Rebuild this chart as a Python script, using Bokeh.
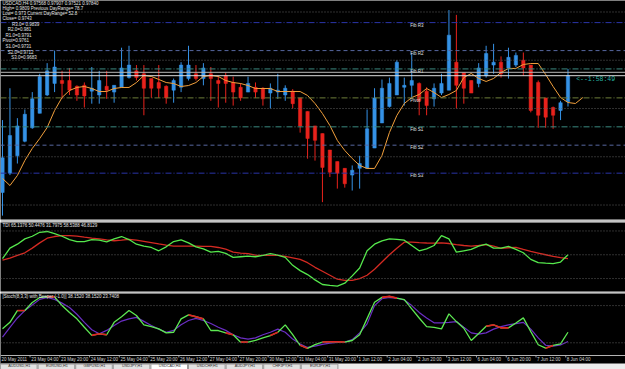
from bokeh.plotting import figure
from bokeh.layouts import column
from bokeh.models import Range1d, Span, Label, ColumnDataSource
from bokeh.core.properties import value
from bokeh.embed import file_html
from bokeh.resources import INLINE

# ---------------- data ----------------
opens = [0.9663, 0.9683, 0.9701, 0.9716, 0.9730, 0.9745, 0.9764, 0.9776, 0.9779, 0.9779,
         0.9773, 0.9774, 0.9768, 0.9764, 0.9773, 0.9767, 0.9772, 0.9782, 0.9789, 0.9786,
         0.9781, 0.9777, 0.9773, 0.9769, 0.9772, 0.9781, 0.9786, 0.9781, 0.9786, 0.9779,
         0.9784, 0.9777, 0.9772, 0.9767, 0.9772, 0.9771, 0.9766, 0.9767, 0.9764, 0.9768,
         0.9761, 0.9747, 0.9732, 0.9724, 0.9707, 0.9695, 0.9688, 0.9681, 0.9688, 0.9688,
         0.9709, 0.9735, 0.9752, 0.9764, 0.9772, 0.9774, 0.9776, 0.9768, 0.9760, 0.9766,
         0.9769, 0.9798, 0.9787, 0.9779, 0.9776, 0.9784, 0.9795, 0.9798, 0.9792, 0.9795,
         0.9800, 0.9795, 0.9777, 0.9761, 0.9751, 0.9748, 0.9757]
highs = [0.9738, 0.9771, 0.9740, 0.9749, 0.9767, 0.9786, 0.9797, 0.9810, 0.9789, 0.9792,
         0.9774, 0.9777, 0.9793, 0.9789, 0.9789, 0.9774, 0.9813, 0.9815, 0.9795, 0.9795,
         0.9781, 0.9795, 0.9774, 0.9781, 0.9798, 0.9815, 0.9795, 0.9797, 0.9793, 0.9784,
         0.9787, 0.9783, 0.9776, 0.9783, 0.9777, 0.9772, 0.9776, 0.9786, 0.9774, 0.9770,
         0.9761, 0.9747, 0.9732, 0.9724, 0.9707, 0.9695, 0.9688, 0.9691, 0.9701, 0.9749,
         0.9771, 0.9780, 0.9782, 0.9800, 0.9782, 0.9808, 0.9777, 0.9772, 0.9776, 0.9786,
         0.9852, 0.9847, 0.9787, 0.9779, 0.9797, 0.9815, 0.9817, 0.9804, 0.9813, 0.9808,
         0.9808, 0.9795, 0.9779, 0.9761, 0.9752, 0.9758, 0.9791]
lows = [0.9639, 0.9681, 0.9693, 0.9715, 0.9729, 0.9745, 0.9763, 0.9767, 0.9760, 0.9764,
        0.9758, 0.9751, 0.9755, 0.9755, 0.9760, 0.9756, 0.9772, 0.9781, 0.9779, 0.9743,
        0.9761, 0.9761, 0.9755, 0.9756, 0.9767, 0.9779, 0.9779, 0.9774, 0.9758, 0.9751,
        0.9756, 0.9753, 0.9758, 0.9767, 0.9761, 0.9753, 0.9750, 0.9760, 0.9758, 0.9750,
        0.9725, 0.9698, 0.9696, 0.9653, 0.9679, 0.9667, 0.9668, 0.9665, 0.9667, 0.9688,
        0.9709, 0.9735, 0.9751, 0.9764, 0.9753, 0.9761, 0.9743, 0.9743, 0.9752, 0.9764,
        0.9769, 0.9750, 0.9755, 0.9766, 0.9772, 0.9782, 0.9786, 0.9782, 0.9781, 0.9793,
        0.9784, 0.9746, 0.9730, 0.9730, 0.9729, 0.9738, 0.9752]
closes = [0.9699, 0.9722, 0.9732, 0.9744, 0.9760, 0.9783, 0.9789, 0.9793, 0.9776, 0.9769,
          0.9764, 0.9763, 0.9771, 0.9779, 0.9769, 0.9774, 0.9792, 0.9795, 0.9782, 0.9771,
          0.9771, 0.9771, 0.9761, 0.9779, 0.9795, 0.9795, 0.9781, 0.9792, 0.9781, 0.9776,
          0.9776, 0.9767, 0.9761, 0.9776, 0.9767, 0.9760, 0.9771, 0.9769, 0.9771, 0.9755,
          0.9732, 0.9719, 0.9717, 0.9689, 0.9684, 0.9683, 0.9672, 0.9686, 0.9693, 0.9729,
          0.9761, 0.9771, 0.9776, 0.9798, 0.9774, 0.9779, 0.9758, 0.9753, 0.9771, 0.9776,
          0.9826, 0.9774, 0.9771, 0.9766, 0.9792, 0.9807, 0.9798, 0.9786, 0.9803, 0.9805,
          0.9792, 0.9748, 0.9743, 0.9741, 0.9743, 0.9756, 0.9784]
ma_line = [0.96775, 0.96702, 0.96806, 0.96961, 0.97086, 0.97189, 0.97303, 0.97479, 0.97614, 0.97687,
           0.97718, 0.97728, 0.97707, 0.97676, 0.97676, 0.97707, 0.97718, 0.97718, 0.97769, 0.97842,
           0.97832, 0.97801, 0.97769, 0.97759, 0.97728, 0.97738, 0.97769, 0.97832, 0.97842, 0.97832,
           0.97790, 0.97769, 0.97759, 0.97738, 0.97707, 0.97707, 0.97707, 0.97676, 0.97676, 0.97676,
           0.97676, 0.97635, 0.97552, 0.97448, 0.97324, 0.97169, 0.97065, 0.96982, 0.96910, 0.96879,
           0.96879, 0.97013, 0.97251, 0.97428, 0.97552, 0.97614, 0.97645, 0.97707, 0.97666, 0.97614,
           0.97645, 0.97687, 0.97821, 0.97863, 0.97811, 0.97780, 0.97811, 0.97873, 0.97915, 0.97915,
           0.97956, 0.97966, 0.97966, 0.97852, 0.97728, 0.97614, 0.97562, 0.97552, 0.97614]

tdi_green = [47, 55, 58, 62, 64, 67, 67.6, 66, 64, 61.5,
             60, 60, 61.5, 61, 59.8, 62, 63.8, 61.5, 58, 56.5,
             55.5, 53, 56, 60, 61.3, 59, 56, 54.5, 52, 52.5,
             51, 48, 48.5, 49, 48.5, 49.5, 50.8, 49.7, 48, 42,
             38, 35, 31, 27.5, 26.8, 26.3, 28.5, 34, 40, 53,
             58, 60.5, 62, 61.7, 61, 57, 53, 54.5, 57, 64.5,
             62, 52, 53, 54, 56.5, 58, 55, 55, 56.3, 54,
             51.5, 46.5, 44, 43.6, 43.3, 44.5, 50]
tdi_red = [46, 47.5, 49.5, 51.5, 55, 59, 62.5, 63.8, 64.4, 64.5,
           64.1, 63.3, 62.6, 62, 61.2, 60.6, 61, 61.6, 61, 60.1,
           59.2, 58.2, 57.3, 56.5, 56.5, 56.5, 56.5, 56.4, 56.3, 55.5,
           54.3, 52, 51.3, 50.8, 49.7, 49.5, 49.5, 49.5, 48.8, 47.7,
           46.5, 44, 40.5, 37.5, 34.5, 31.5, 30.6, 30.6, 32, 34.5,
           39, 44.5, 50, 55, 59.5, 59.6, 59.2, 58.9, 58.8, 59,
           58.5, 57.6, 57, 56.6, 57, 57.6, 56.5, 54.8, 55.3, 55.6,
           54, 52.5, 51.3, 50, 48.7, 47.8, 47]
tdi_levels = [32, 50, 68]

stoch_main = [42.5, 53, 72, 72, 85, 93, 94.4, 94, 80, 69,
              58.6, 45, 32, 34.5, 33, 53, 62, 72, 64, 49,
              46, 42.5, 36, 37, 58.6, 65, 62, 58.6, 39.8, 39.8,
              36, 32.9, 21, 21, 24, 28, 31.7, 37, 48.9, 33,
              16, 11, 17, 21, 21.5, 21.5, 21, 23.7, 32.9, 59,
              85.3, 93.3, 94.9, 92, 89.6, 74.7, 60, 46, 45, 42.5,
              66.6, 54.2, 43.5, 23.7, 35, 46.7, 48.9, 44.1, 44.1, 52,
              60.2, 38, 16.8, 11.3, 15.7, 18.4, 37]
stoch_signal = [29, 45, 60, 72, 81, 90, 93, 90, 84, 77,
                66, 53, 41, 34.5, 40, 48, 55, 58.5, 61, 54.5,
                48, 42, 37, 40, 49, 56, 59.5, 56, 51, 45,
                40, 33, 28, 26, 28, 33, 37, 42, 37, 26,
                18, 12.5, 14.5, 17.5, 19.5, 20.5, 21, 25, 36, 50.5,
                80, 91, 93, 92, 89, 80, 69, 60, 52.2, 52.2,
                53, 54.2, 45, 36, 34, 36, 42, 46, 49, 51,
                53, 42, 28, 16, 14.5, 16.5, 22]
stoch_red_runs = [(2, 3), (6, 7), (12, 14), (25, 27), (30, 31), (32, 33), (36, 37),
                  (40, 41), (43, 46), (51, 53), (65, 68), (73, 74)]
stoch_levels = [20, 80]

label_bars = [0, 4, 8, 12, 16, 20, 24, 28, 32, 36, 40, 44, 48, 52, 56, 60, 64, 68, 72, 76]
time_labels = ["20 May 2011", "23 May 04:00", "23 May 20:00", "24 May 12:00", "25 May 04:00",
               "25 May 20:00", "26 May 12:00", "27 May 04:00", "27 May 20:00", "30 May 12:00",
               "31 May 04:00", "31 May 20:00", "1 Jun 12:00", "2 Jun 04:00", "2 Jun 20:00",
               "3 Jun 12:00", "6 Jun 04:00", "6 Jun 20:00", "7 Jun 12:00", "8 Jun 04:00"]

grid_levels = [0.965, 0.970, 0.975, 0.980, 0.985]
pivot_names = ["Fib R3", "Fib R2", "Fib R1", "Pivot", "Fib S1", "Fib S2", "Fib S3"]
pivot_values = [0.9839, 0.9810, 0.9791, 0.9761, 0.9731, 0.9712, 0.9683]
bid_price = 0.9784
ask_price = 0.97875
timer_text = "<--1:58:49"

info_lines = ["USDCAD,H4  0.97568 0.97907 0.97521 0.97840",
              "High= 0.9809 Previous DayRange= 78.7",
              "Low= 0.973 Current DayRange= 52.8",
              "Close= 0.9743",
              "R3.0= 0.9839", "R2.0=0.981", "R1.0=0.9791", "Pivot=0.9761",
              "S1.0=0.9731", "S2.0=0.9712", "S3.0=0.9683"]
tdi_title = "TDI 65.1376 50.4476 31.7975 58.5388 46.8129"
stoch_title = "[Stoch(8,3,3) with Beeper (-1.0)] 38.1520 38.1520 23.7408"
tab_labels = ["AUDUSD,H1", "EURUSD,H1", "GBPUSD,H1", "USDJPY,H1", "USDCAD,H4",
              "USDCHF,H1", "AUDJPY,H1", "CHFJPY,H1", "EURJPY,H1"]
active_tab = "USDCAD,H4"

# ---------------- styles ----------------
FONT = "Liberation Sans"
BULL = "#3592e6"
BEAR = "#e8221c"
SEP = "#c4c4c4"
GRID = "#5e5e5e"
TXT = "#e4e4e4"
pivot_colors = ["#2a34a8", "#56679f", "#3b8a80", "#6d7d3a", "#3b8a80", "#56679f", "#2a34a8"]
pivot_dashes = ["6 2 1 2", "4 3", "6 2 1 2", "6 2 1 2", "6 2 1 2", "4 3", "6 2 1 2"]

W = 625
xr = Range1d(-0.27, 83.73)
bars = list(range(len(closes)))


def make_fig(height, yr, bottom, border):
    f = figure(width=W, height=height, x_range=xr, y_range=yr,
               toolbar_location=None, output_backend="svg", title=None,
               x_axis_location=None, y_axis_location=None,
               min_border=0, min_border_left=0, min_border_right=0,
               min_border_top=0, min_border_bottom=bottom,
               background_fill_color="black", border_fill_color=border,
               outline_line_color=None)
    f.xgrid.visible = False
    f.ygrid.visible = False
    return f


def hlines(f, levels, color, dash, **kw):
    for lv in levels:
        f.add_layout(Span(location=lv, dimension="width", line_color=color,
                          line_dash=dash, line_width=1, **kw))


# ---------------- main price panel ----------------
main = make_fig(222, Range1d(0.96350, 0.98619), 3, SEP)
hlines(main, grid_levels, GRID, "1 2")
for pv, col, dsh in zip(pivot_values, pivot_colors, pivot_dashes):
    hlines(main, [pv], col, dsh)
hlines(main, [ask_price], "#b8b8b8", "solid")
hlines(main, [bid_price], "#dcdcdc", "solid")

colors = [BULL if c >= o else BEAR for o, c in zip(opens, closes)]
src = ColumnDataSource(dict(x=bars, h=highs, l=lows,
                            top=[max(o, c) for o, c in zip(opens, closes)],
                            bot=[min(o, c) for o, c in zip(opens, closes)],
                            color=colors))
main.segment(x0="x", y0="l", x1="x", y1="h", line_color="color", line_width=1, source=src)
main.vbar(x="x", width=0.45, top="top", bottom="bot", fill_color="color",
          line_color="color", line_width=0.5, source=src)
main.line(list(range(len(ma_line))), ma_line, line_color="#f2a03c", line_width=1)

main.text(x=[54.8] * len(pivot_names), y=pivot_values, text=pivot_names,
          text_font=value(FONT), text_font_size="4.5px", text_color=TXT,
          text_baseline="top", text_align="left")
main.text(x=[77.1], y=[bid_price], text=[timer_text], text_font=value("Liberation Mono"),
          text_font_size="6.5px", text_color="#27b3a4", text_baseline="top", text_align="left")

info_x = [2, 2, 2, 2, 11.5, 7.3, 5, 2, 5, 7.3, 10.7]
info_y = [3, 7.8, 12.8, 18.3, 24, 29.3, 34.5, 40.3, 46, 51.7, 57]
for t, xx, yy in zip(info_lines, info_x, info_y):
    main.add_layout(Label(x=xx, y=219 - yy, x_units="screen", y_units="screen", text=t,
                          text_font=FONT, text_font_size="4.5px", text_color=TXT,
                          text_baseline="middle", text_align="left"))

# ---------------- TDI panel ----------------
tdi = make_fig(71, Range1d(22.2, 74.4), 2, SEP)
hlines(tdi, tdi_levels, GRID, "1 2")
tdi.line(bars, tdi_red, line_color="#d42a22", line_width=1.3)
tdi.line(bars, tdi_green, line_color="#55e84c", line_width=1.3)
tdi.add_layout(Label(x=2, y=66, x_units="screen", y_units="screen", text=tdi_title,
                     text_font=FONT, text_font_size="4.5px", text_color=TXT,
                     text_baseline="middle"))

# ---------------- Stochastic panel + time strip + tab bar ----------------
# frame spans 76 px: stochastic 0..100 in the top 62 px, time labels and tabs below
sto = make_fig(76, Range1d(-23.08, 99.5), 0, "black")
sto.extra_y_ranges = {"strip": Range1d(76, 0)}
sto.extra_x_ranges = {"px": Range1d(0, W)}
hlines(sto, stoch_levels, GRID, "1 2")
sto.line(bars, stoch_signal, line_color="#6a2ec4", line_width=1.2)
sto.line(bars, stoch_main, line_color="#5de852", line_width=1.3)
for a, b in stoch_red_runs:
    sto.line(bars[a:b + 1], stoch_main[a:b + 1], line_color="#e02222", line_width=1.6)
sto.add_layout(Label(x=2, y=73, x_units="screen", y_units="screen", text=stoch_title,
                     text_font=FONT, text_font_size="4.5px", text_color=TXT,
                     text_baseline="middle"))

# time axis
sto.quad(left=[0], right=[W], top=[62], bottom=[70], x_range_name="px",
         y_range_name="strip", fill_color="black", line_color=None)
hlines(sto, [62], "#b4b4b4", "solid", y_range_name="strip")
sto.segment(x0=[b - 0.3 for b in label_bars], y0=[62] * len(label_bars),
            x1=[b - 0.3 for b in label_bars], y1=[64] * len(label_bars),
            y_range_name="strip", line_color="#9a9a9a", line_width=1)
sto.text(x=[b - 0.15 for b in label_bars], y=[63.2] * len(label_bars), text=time_labels,
         y_range_name="strip", text_font=value(FONT), text_font_size="4.5px",
         text_color="#d2d2d2", text_align="left", text_baseline="top")

# tab bar
sto.quad(left=[0], right=[W], top=[70], bottom=[77], x_range_name="px",
         y_range_name="strip", fill_color="#ececec", line_color=None)
tw = 37.6
lefts = [i * tw for i in range(len(tab_labels))]
sto.quad(left=lefts, right=[l + tw - 1 for l in lefts], top=[70.6] * len(lefts),
         bottom=[77] * len(lefts), x_range_name="px", y_range_name="strip",
         fill_color=["#ffffff" if t == active_tab else "#e2e2e2" for t in tab_labels],
         line_color="#9c9c9c", line_width=1)
sto.text(x=[l + tw / 2 for l in lefts], y=[72.9] * len(lefts), text=tab_labels,
         x_range_name="px", y_range_name="strip", text_font=value(FONT),
         text_font_size="3.8px", text_color="#303030",
         text_align="center", text_baseline="middle")

layout = column(main, tdi, sto, spacing=0)
open("out.html", "w").write(file_html(layout, INLINE))
